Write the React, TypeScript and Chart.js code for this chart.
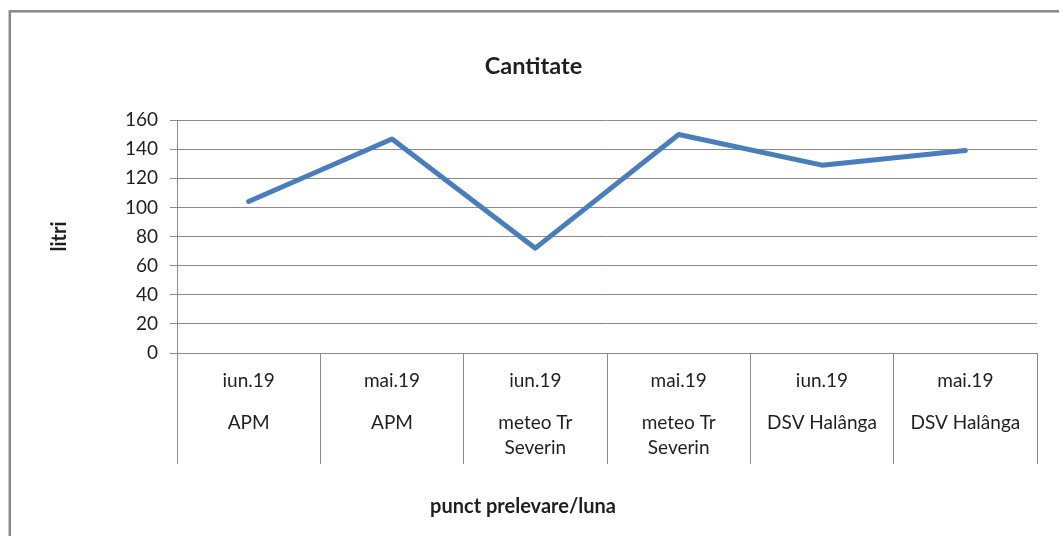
import { useEffect, useRef } from "react";
import { Chart, registerables } from "chart.js";

Chart.register(...registerables);

const months = ["iun.19", "mai.19", "iun.19", "mai.19", "iun.19", "mai.19"];
const locations = [
  ["APM"],
  ["APM"],
  ["meteo Tr", "Severin"],
  ["meteo Tr", "Severin"],
  ["DSV Halânga"],
  ["DSV Halânga"],
];
const litri = [104, 147, 72, 150, 129, 139];
const yMin = 0;
const yMax = 160;
const yStep = 20;
const chartTitle = "Cantitate";
const xTitle = "punct prelevare/luna";
const yTitle = "litri";

const FONT = "Lato, 'Open Sans', sans-serif";
const TEXT = "#1f1f1f";
const GRID = "#8a8a8a";

const borderPlugin = {
  id: "outerBorder",
  beforeDraw(chart: any) {
    const ctx = chart.ctx;
    ctx.save();
    ctx.fillStyle = "#ffffff";
    ctx.fillRect(0, 0, chart.width, chart.height);
    ctx.strokeStyle = "#878787";
    ctx.lineWidth = 2.5;
    ctx.strokeRect(9.8, 11.3, 1300, 900);
    ctx.restore();
  },
};

const categoryLabels = {
  id: "categoryLabels",
  afterDraw(chart: any) {
    const x = chart.scales.x;
    const bottom = chart.chartArea.bottom;
    const ctx = chart.ctx;
    ctx.save();
    ctx.font = `19px ${FONT}`;
    ctx.fillStyle = TEXT;
    ctx.textAlign = "center";
    ctx.textBaseline = "middle";
    months.forEach((m, i) => {
      const px = x.getPixelForValue(i);
      ctx.fillText(m, px, bottom + 28);
      locations[i].forEach((line, j) => {
        ctx.fillText(line, px, bottom + 70 + j * 25);
      });
    });
    // x-axis title, centred on the whole chart as in the reference
    ctx.font = `bold 20px ${FONT}`;
    ctx.fillText(xTitle, 523, bottom + 154);
    ctx.restore();
  },
};

export default function App() {
  const ref = useRef<HTMLCanvasElement>(null);

  useEffect(() => {
    if (!ref.current) return;
    const chart = new Chart(ref.current, {
      type: "line",
      data: {
        labels: months.map((m, i) => `${m} ${locations[i].join(" ")}`),
        datasets: [
          {
            label: yTitle,
            data: litri,
            borderColor: "#4a7ebb",
            backgroundColor: "#4a7ebb",
            borderWidth: 5,
            pointRadius: 0,
            tension: 0,
            borderJoinStyle: "round",
            borderCapStyle: "round",
          },
        ],
      },
      options: {
        responsive: false,
        animation: false,
        layout: { padding: { left: 30, right: 22, top: 0, bottom: 0 } },
        plugins: {
          legend: { display: false },
          tooltip: { enabled: false },
          title: {
            display: true,
            text: chartTitle,
            color: TEXT,
            font: { family: FONT, size: 23.5, weight: "bold" },
            padding: { top: 51.9, bottom: 39.9 },
          },
        },
        scales: {
          x: {
            type: "category",
            offset: true,
            grid: {
              offset: true,
              drawOnChartArea: false,
              drawTicks: true,
              tickLength: 111,
              color: GRID,
              lineWidth: 1,
            },
            border: { display: true, color: GRID, width: 1 },
            ticks: { display: false },
            title: { display: false, text: xTitle },
            afterFit: (s: any) => {
              s.height = 183;
            },
          },
          y: {
            min: yMin,
            max: yMax,
            ticks: {
              stepSize: yStep,
              color: TEXT,
              padding: 12,
              font: { family: FONT, size: 19 },
            },
            grid: {
              color: GRID,
              lineWidth: 1,
              drawTicks: true,
              tickLength: 7,
            },
            border: { display: true, color: GRID, width: 1 },
            title: {
              display: true,
              text: yTitle,
              color: TEXT,
              font: { family: FONT, size: 20, weight: "bold" },
              padding: { top: 18, bottom: 18 },
            },
            afterFit: (s: any) => {
              s.width = 147;
            },
          },
        },
      },
      plugins: [borderPlugin, categoryLabels],
    });
    return () => chart.destroy();
  }, []);

  return (
    <div style={{ position: "fixed", left: 0, top: 0, width: 1059, height: 536 }}>
      <canvas ref={ref} width={1059} height={536} />
    </div>
  );
}
